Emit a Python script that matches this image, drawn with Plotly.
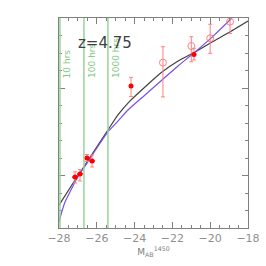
import plotly.graph_objects as go

# filled points
fx = [-27.15, -26.89, -26.52, -26.25, -24.19, -20.86]
fy = [2.91, 3.09, 4.0, 3.83, 8.11, 9.92]
fy_plus = [0.3, 0.25, 0.2, 0.34, 0.5, 0.35]
fy_minus = [0.34, 0.4, 0.2, 0.34, 0.6, 0.32]
fx_err = [0.15, 0.15, 0.15, 0.15, 0.1, 0.12]

# open circles
ox = [-22.5, -21.0, -20.0, -18.95]
oy = [9.45, 10.4, 10.84, 11.79]
oy_plus = [0.91, 0.53, 0.8, 0.5]
oy_minus = [1.96, 0.9, 0.86, 0.67]

# black curve
bx = [-28.0, -27.15, -26.52, -26.10, -25.41, -24.88, -24.24, -23.45, -22.55, -21.70, -20.80, -19.90, -19.06, -18.0]
by = [1.31, 2.74, 3.77, 4.46, 5.60, 6.46, 7.26, 8.06, 8.91, 9.54, 10.06, 10.63, 11.14, 11.83]

# blue curve
ux = [-28.0, -27.84, -27.68, -27.42, -27.15, -26.84, -26.47, -26.10, -25.41, -24.88, -24.35, -23.45, -22.55, -21.70, -20.80, -19.90, -18.85]
uy = [0.34, 0.97, 1.49, 2.06, 2.63, 3.2, 3.77, 4.4, 5.49, 6.11, 6.74, 7.6, 8.46, 9.26, 10.06, 10.91, 12.0]

# exposure lines
hrs_x = [-27.95, -26.68, -25.41]
hrs_lab = ["10 hrs", "100 hrs", "1000 hrs"]

fig = go.Figure()

for x, lab in zip(hrs_x, hrs_lab):
    fig.add_shape(type="line", x0=x, x1=x, y0=0, y1=1, yref="paper",
                  line=dict(color="#98d498", width=1.5))
    fig.add_annotation(x=x, y=0.705, yref="paper", text=lab, textangle=-90,
                       showarrow=False, xanchor="left", yanchor="bottom", xshift=1,
                       font=dict(family="DejaVu Sans", size=9, color="#80c880"))

fig.add_trace(go.Scatter(x=bx, y=by, mode="lines",
                         line=dict(color="#404040", width=1.2, shape="spline", smoothing=0.6),
                         hoverinfo="skip"))
fig.add_trace(go.Scatter(x=ux, y=uy, mode="lines",
                         line=dict(color="#7a4fe8", width=1.2, shape="spline", smoothing=0.6),
                         hoverinfo="skip"))

fig.add_trace(go.Scatter(x=ox, y=oy, mode="markers",
                         marker=dict(symbol="circle-open", size=7, color="#ff8080", line=dict(width=1)),
                         error_y=dict(type="data", symmetric=False, array=oy_plus, arrayminus=oy_minus,
                                      color="#ff8080", thickness=1, width=2)))
fig.add_trace(go.Scatter(x=fx, y=fy, mode="markers",
                         marker=dict(symbol="circle", size=5, color="#ff0000"),
                         error_y=dict(type="data", symmetric=False, array=fy_plus, arrayminus=fy_minus,
                                      color="#ff8080", thickness=1, width=2),
                         error_x=dict(type="data", array=fx_err, color="#ff0000", thickness=1.5, width=0)))

fig.add_annotation(x=-25.59, y=0.933, yref="paper", text="z=4.75", showarrow=False,
                   font=dict(family="DejaVu Sans", size=15, color="#404040"))

axis_common = dict(showgrid=False, zeroline=False, showline=True, linecolor="#808080", linewidth=1,
                   mirror="ticks", ticks="inside", tickcolor="#808080")

fig.update_xaxes(range=[-28, -18], tick0=-28, dtick=2, ticklen=6,
                 minor=dict(dtick=0.5, ticklen=3, ticks="inside", tickcolor="#808080"),
                 tickfont=dict(family="DejaVu Sans", size=11, color="#909090"),
                 tickformat="d",
                 title=dict(text="M<sub>AB</sub><sup>1450</sup>", standoff=2,
                            font=dict(family="DejaVu Sans", size=9, color="#808080")),
                 **axis_common)
fig.update_yaxes(range=[0, 12], tick0=3, dtick=5, ticklen=6, showticklabels=False,
                 minor=dict(dtick=1, ticklen=3, ticks="inside", tickcolor="#808080"),
                 **axis_common)

fig.update_layout(width=266, height=266, margin=dict(l=59, r=18, t=18, b=38, autoexpand=False),
                  plot_bgcolor="white", paper_bgcolor="white", showlegend=False)

fig.write_html("out.html", config={"displayModeBar": False},
               post_script="document.body.style.margin='0';")
